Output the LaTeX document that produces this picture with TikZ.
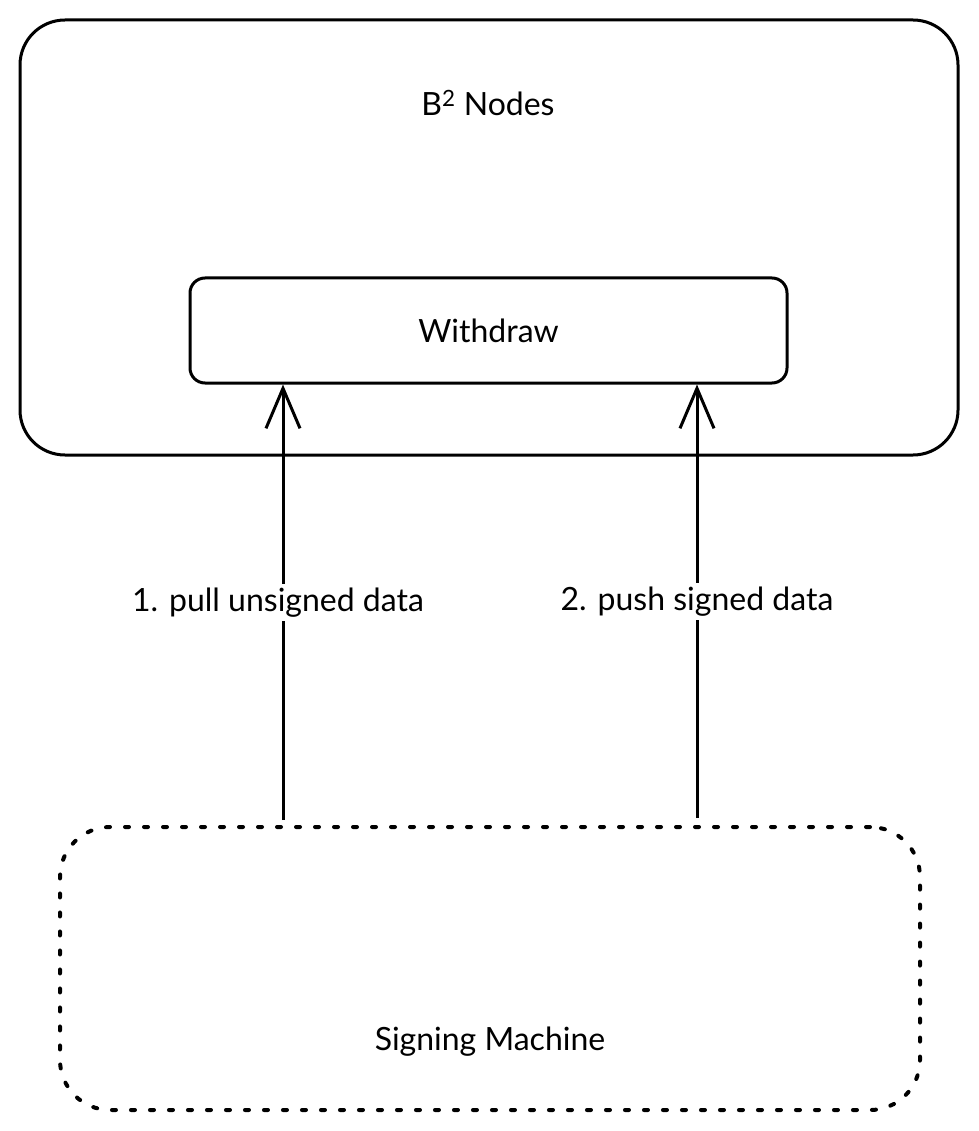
\documentclass[tikz,border=0pt]{standalone}
\usepackage{fontspec}
\setmainfont{Lato}
\usepackage{tikz}
\usetikzlibrary{shapes, arrows.meta, positioning}

\begin{document}
\begin{tikzpicture}[
            x=1pt, y=-1pt,
            box/.style={rectangle, draw=black, line width=3pt, rounded corners=#1},
            dotbox/.style={rectangle, draw=black, line width=4pt, rounded corners=50pt,
                dash pattern=on 4pt off 15pt, line cap=round},
            txt/.style={font=\fontsize{32}{36}\selectfont},
            lbl/.style={txt, fill=white, inner sep=4pt},
            arrow/.style={-{Straight Barb[length=40pt, width=34pt, line width=3pt]}, line width=3pt}
        ]
            \useasboundingbox (0,0) rectangle (978,1131);

            % Nodes
            \node[box=45pt, minimum width=938pt, minimum height=435pt] (nodes) at (489,237.5) {};
            \node[txt] (title) at (488,103) {B\textsuperscript{2} Nodes};
            \node[box=15pt, minimum width=597pt, minimum height=105pt, txt] (withdraw) at (488.5,330.5) {Withdraw};

            % Signing machine
            \node[dotbox, minimum width=860pt, minimum height=283pt] (signer) at (490,968.5) {};
            \node[txt] (signtext) at (490,1042) {Signing Machine};

            % Connections
            \coordinate (pull) at (283,820);
            \coordinate (push) at (697,818);
            \draw[arrow] (pull) -- node[lbl, xshift=-5pt] {1. pull unsigned data} (withdraw.south -| pull);
            \draw[arrow] (push) -- node[lbl] {2. push signed data} (withdraw.south -| push);
        \end{tikzpicture}
\end{document}
